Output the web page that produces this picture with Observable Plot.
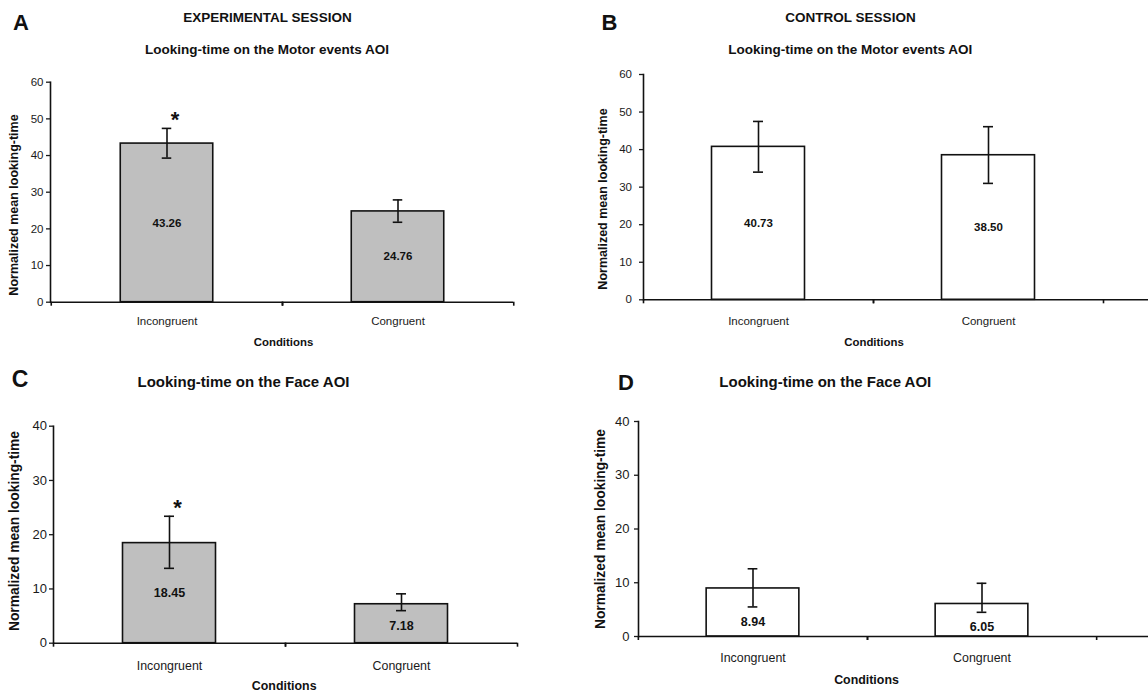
<!DOCTYPE html>
<html>
<head>
<meta charset="utf-8">
<script src="https://cdn.jsdelivr.net/npm/d3@7"></script>
<script src="https://cdn.jsdelivr.net/npm/@observablehq/plot@0.6"></script>
<style>
  html, body { margin: 0; padding: 0; background: #fff; }
  #root { position: relative; width: 1148px; height: 694px; overflow: hidden; font-family: "Liberation Sans", Arial, Helvetica, sans-serif; color: #111; }
  .t { position: absolute; transform: translate(-50%, -50%); white-space: nowrap; font-weight: bold; line-height: 1; }
  .r { transform: translate(-50%, -50%) rotate(-90deg); }
  svg { position: absolute; }
</style>
</head>
<body>
<div id="root"></div>
<script>
// ---- data ----
const conditions = ["Incongruent", "Congruent"];

const expMotorMean = [43.26, 24.76];
const expMotorLow  = [39.3, 21.8];
const expMotorHigh = [47.4, 27.9];
const expMotorSig  = [true, false];

const ctrlMotorMean = [40.73, 38.50];
const ctrlMotorLow  = [34.0, 31.0];
const ctrlMotorHigh = [47.5, 46.1];
const ctrlMotorSig  = [false, false];

const expFaceMean = [18.45, 7.18];
const expFaceLow  = [13.8, 6.0];
const expFaceHigh = [23.4, 9.1];
const expFaceSig  = [true, false];

const ctrlFaceMean = [8.94, 6.05];
const ctrlFaceLow  = [5.5, 4.5];
const ctrlFaceHigh = [12.6, 9.9];
const ctrlFaceSig  = [false, false];

const motorTicks = [0, 10, 20, 30, 40, 50, 60];
const faceTicks  = [0, 10, 20, 30, 40];

const panelLetters = ["A", "B", "C", "D"];
const sessionTitles = ["EXPERIMENTAL SESSION", "CONTROL SESSION"];
const motorTitle = "Looking-time on the Motor events AOI";
const faceTitle = "Looking-time on the Face AOI";
const yLabel = "Normalized mean looking-time";
const xLabel = "Conditions";

function rows(mean, low, high, sig) {
  return conditions.map((c, i) => ({cond: c, value: mean[i], lo: low[i], hi: high[i], sig: sig[i]}));
}

const root = document.getElementById("root");
const FONT = '"Liberation Sans", Arial, Helvetica, sans-serif';

function addText(txt, x, y, size, extraClass) {
  const d = document.createElement("div");
  d.className = "t" + (extraClass ? " " + extraClass : "");
  d.textContent = txt;
  d.style.left = x + "px";
  d.style.top = y + "px";
  d.style.fontSize = size + "px";
  root.appendChild(d);
}

function panel(cfg) {
  const data = rows(...cfg.series);
  const bw = (cfg.range[1] - cfg.range[0]) / 2;
  const barInset = (bw - 93) / 2;
  const capInset = (bw - 10) / 2;
  const ppu = (cfg.height - cfg.mT - cfg.mB) / cfg.yMax; // pixels per unit
  const ink = "#111";
  const svg = Plot.plot({
    width: cfg.width,
    height: cfg.height,
    marginLeft: cfg.mL,
    marginRight: cfg.mR,
    marginTop: cfg.mT,
    marginBottom: cfg.mB,
    style: {fontFamily: FONT, color: "#1a1a1a", background: "transparent", overflow: "visible"},
    x: {domain: conditions, range: cfg.range, padding: 0, axis: null, label: null},
    y: {domain: [0, cfg.yMax], axis: null, label: null},
    marks: [
      Plot.barY(data, {x: "cond", y: "value", fill: cfg.fill, stroke: ink, strokeWidth: 1.6, insetLeft: barInset, insetRight: barInset}),
      Plot.ruleX(data, {x: "cond", y1: "lo", y2: "hi", stroke: ink, strokeWidth: 1.6}),
      Plot.tickY(data, {x: "cond", y: "lo", stroke: ink, strokeWidth: 1.6, insetLeft: capInset, insetRight: capInset}),
      Plot.tickY(data, {x: "cond", y: "hi", stroke: ink, strokeWidth: 1.6, insetLeft: capInset, insetRight: capInset}),
      Plot.text(data, {x: "cond", y: d => Math.min(d.value / 2, d.lo - 15 / ppu), text: d => d.value.toFixed(2), fontWeight: "bold", fontSize: cfg.valFs, fill: ink}),
      Plot.text(data.filter(d => d.sig), {x: "cond", y: "hi", text: () => "*", fontWeight: "bold", fontSize: 22, dx: 8, dy: -8, fill: ink}),
      Plot.ruleY([0], {stroke: ink, strokeWidth: 1.6}),
      Plot.frame({anchor: "left", stroke: ink, strokeWidth: 1.6}),
      Plot.ruleX(data, {x: "cond", dx: -bw / 2, y1: 0, y2: 0, insetBottom: -4, stroke: ink, strokeWidth: 1.6}),
      Plot.ruleX(data, {x: "cond", dx: bw / 2, y1: 0, y2: 0, insetBottom: -4, stroke: ink, strokeWidth: 1.6}),
      Plot.axisY({ticks: cfg.ticks, tickSize: 4, tickPadding: cfg.yPad, fontSize: cfg.tickFs, label: null, strokeWidth: 1.3, tickFormat: d => String(d)}),
      Plot.axisX({tickSize: 0, tickPadding: cfg.xPad, fontSize: cfg.xFs, label: null})
    ]
  });
  svg.style.left = cfg.left + "px";
  svg.style.top = cfg.top + "px";
  root.appendChild(svg);
}

// Panel A
panel({series: [expMotorMean, expMotorLow, expMotorHigh, expMotorSig], fill: "#bfbfbf",
  left: 0, top: 60, width: 574, height: 290, mL: 50, mR: 61, mT: 21.7, mB: 48.3,
  range: [50, 513], yMax: 60, ticks: motorTicks, yPad: 3, tickFs: 11.5, xPad: 15, xFs: 11.5, valFs: 11.5});
// Panel B
panel({series: [ctrlMotorMean, ctrlMotorLow, ctrlMotorHigh, ctrlMotorSig], fill: "#ffffff",
  left: 574, top: 55, width: 574, height: 295, mL: 69, mR: 0, mT: 19, mB: 50.7,
  range: [69, 529], yMax: 60, ticks: motorTicks, yPad: 7.5, tickFs: 11.5, xPad: 17, xFs: 11.5, valFs: 11.5});
// Panel C
panel({series: [expFaceMean, expFaceLow, expFaceHigh, expFaceSig], fill: "#bfbfbf",
  left: 0, top: 400, width: 574, height: 294, mL: 53, mR: 57, mT: 25.7, mB: 51.3,
  range: [53, 517], yMax: 40, ticks: faceTicks, yPad: 2.5, tickFs: 13, xPad: 17.5, xFs: 12.4, valFs: 12.5});
// Panel D
panel({series: [ctrlFaceMean, ctrlFaceLow, ctrlFaceHigh, ctrlFaceSig], fill: "#ffffff",
  left: 574, top: 400, width: 574, height: 294, mL: 64, mR: 0, mT: 21, mB: 58,
  range: [64, 522.6], yMax: 40, ticks: faceTicks, yPad: 5, tickFs: 13, xPad: 17, xFs: 12.4, valFs: 12.5});

// Letters
addText(panelLetters[0], 21, 23, 22);
addText(panelLetters[1], 609.5, 23.3, 22);
addText(panelLetters[2], 20, 379, 23);
addText(panelLetters[3], 626, 383, 22);
// Session titles
addText(sessionTitles[0], 267.5, 17.7, 13.5);
addText(sessionTitles[1], 850.5, 17.7, 13.5);
// Subtitles
addText(motorTitle, 267, 50, 13.5);
addText(motorTitle, 850.3, 50, 13.5);
addText(faceTitle, 243.5, 381, 15);
addText(faceTitle, 825.3, 381, 15);
// Y labels
addText(yLabel, 13.5, 205, 12.5, "r");
addText(yLabel, 602.7, 199, 12.5, "r");
addText(yLabel, 14.7, 531, 13.8, "r");
addText(yLabel, 601, 529, 13.8, "r");
// X labels
addText(xLabel, 283.5, 343, 11.4);
addText(xLabel, 874, 343.3, 11.4);
addText(xLabel, 284.2, 686, 12.4);
addText(xLabel, 866.5, 680, 12.4);
</script>
</body>
</html>
